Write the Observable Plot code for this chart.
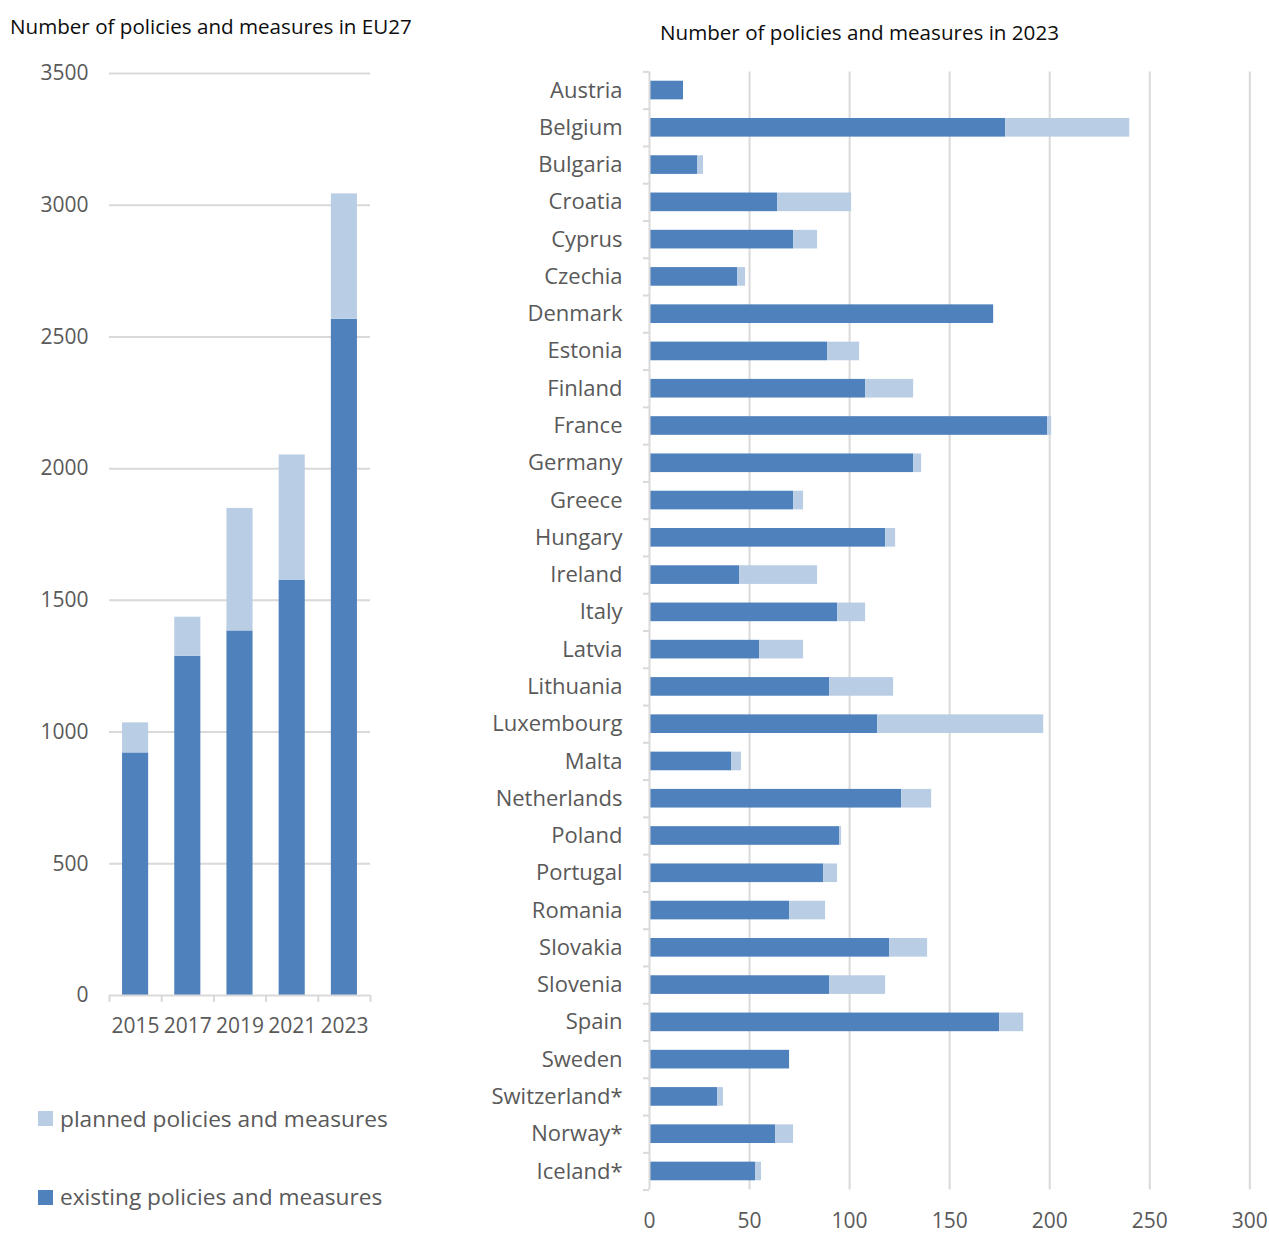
<!DOCTYPE html>
<html>
<head>
<meta charset="utf-8">
<script src="https://cdn.jsdelivr.net/npm/d3@7"></script>
<script src="https://cdn.jsdelivr.net/npm/@observablehq/plot@0.6"></script>
<style>
  html, body { margin: 0; padding: 0; background: #fff; overflow: hidden; }
  #page { position: relative; width: 1269px; height: 1233px; font-family: "Open Sans", sans-serif; }
  .title { position: absolute; font-size: 20.6px; line-height: 20px; color: #0d0d0d; white-space: nowrap; }
  .legend { position: absolute; font-size: 22.7px; line-height: 22px; color: #595959; white-space: nowrap; }
  .swatch { position: absolute; width: 15px; height: 15px; }
  .chart { position: absolute; }
</style>
</head>
<body>
<div id="page">
  <div class="title" style="left:10px; top:16px;">Number of policies and measures in EU27</div>
  <div class="title" style="left:660px; top:22px;">Number of policies and measures in 2023</div>
  <div id="left" class="chart" style="left:0px; top:50px;"></div>
  <div id="right" class="chart" style="left:469px; top:55px;"></div>
  <div class="swatch" style="left:38px; top:1111px; background:#B9CDE5;"></div>
  <div class="legend" style="left:60px; top:1108px;">planned policies and measures</div>
  <div class="swatch" style="left:38px; top:1190px; background:#4F81BD;"></div>
  <div class="legend" style="left:60px; top:1186px;">existing policies and measures</div>
</div>
<script>
// EU27 totals by reporting year
const years = ["2015", "2017", "2019", "2021", "2023"];
const euExisting = [921, 1288, 1384, 1577, 2567];
const euPlanned = [114, 148, 465, 475, 476];
const euTicks = [0, 500, 1000, 1500, 2000, 2500, 3000, 3500];

// Per-country counts reported in 2023
const countries = ["Austria", "Belgium", "Bulgaria", "Croatia", "Cyprus", "Czechia", "Denmark", "Estonia",
  "Finland", "France", "Germany", "Greece", "Hungary", "Ireland", "Italy", "Latvia", "Lithuania",
  "Luxembourg", "Malta", "Netherlands", "Poland", "Portugal", "Romania", "Slovakia", "Slovenia",
  "Spain", "Sweden", "Switzerland*", "Norway*", "Iceland*"];
const existing = [17, 178, 24, 64, 72, 44, 172, 89, 108, 199, 132, 72, 118, 45, 94, 55, 90,
  114, 41, 126, 95, 87, 70, 120, 90, 175, 70, 34, 63, 53];
const planned = [0, 62, 3, 37, 12, 4, 0, 16, 24, 2, 4, 5, 5, 39, 14, 22, 32,
  83, 5, 15, 1, 7, 18, 19, 28, 12, 0, 3, 9, 3];
const countryTicks = [0, 50, 100, 150, 200, 250, 300];

const types = ["existing", "planned"];
const colors = ["#4F81BD", "#B9CDE5"];
const gridColor = "#d9d9d9";
const textColor = "#595959";

// Tidy rows: existing first so it sits at the base of each stack
const euRows = years.flatMap((year, i) => [
  {year, type: "existing", value: euExisting[i]},
  {year, type: "planned", value: euPlanned[i]}
]);
const countryRows = countries.flatMap((country, i) => [
  {country, type: "existing", value: existing[i]},
  {country, type: "planned", value: planned[i]}
]);

// Left: stacked columns for EU27
{
  const W = 400, H = 1000, mL = 109, mR = 30, mT = 23, mB = 55;
  const step = (W - mL - mR) / years.length;
  const chart = Plot.plot({
    width: W, height: H,
    marginLeft: mL, marginRight: mR, marginTop: mT, marginBottom: mB,
    style: {fontFamily: "Open Sans", fontSize: "21px", color: textColor, background: "transparent", overflow: "visible"},
    x: {domain: years, paddingInner: 0.5, paddingOuter: 0.25, round: false},
    y: {domain: [0, 3500]},
    color: {domain: types, range: colors},
    marks: [
      Plot.gridY(euTicks.filter(d => d > 0), {stroke: gridColor, strokeOpacity: 1, strokeWidth: 2}),
      Plot.barY(euRows, {x: "year", y: "value", fill: "type"}),
      Plot.ruleY([0], {stroke: gridColor, strokeWidth: 2}),
      // category boundary ticks below the baseline
      Plot.ruleX(years, {x: d => d, y1: 0, y2: 0, dx: -step / 2, insetBottom: -7, stroke: gridColor, strokeWidth: 2}),
      Plot.ruleX(years.slice(-1), {x: d => d, y1: 0, y2: 0, dx: step / 2, insetBottom: -7, stroke: gridColor, strokeWidth: 2}),
      Plot.axisY({ticks: euTicks, tickFormat: d => String(d), tickSize: 0, tickPadding: 21, label: null}),
      Plot.axisX({tickSize: 0, tickPadding: 23, label: null})
    ]
  });
  document.getElementById("left").append(chart);
}

// Right: stacked horizontal bars per country
{
  const W = 800, H = 1175, mL = 180, mR = 19.7, mT = 16.4, mB = 40.4;
  const step = (H - mT - mB) / countries.length;
  const chart = Plot.plot({
    width: W, height: H,
    marginLeft: mL, marginRight: mR, marginTop: mT, marginBottom: mB,
    style: {fontFamily: "Open Sans", fontSize: "22px", color: textColor, background: "transparent", overflow: "visible"},
    x: {domain: [0, 300]},
    y: {domain: countries, paddingInner: 0.5, paddingOuter: 0.25, round: false},
    color: {domain: types, range: colors},
    marks: [
      Plot.gridX(countryTicks.filter(d => d > 0), {stroke: gridColor, strokeOpacity: 1, strokeWidth: 2}),
      Plot.barX(countryRows, {y: "country", x: "value", fill: "type"}),
      Plot.ruleX([0], {stroke: gridColor, strokeWidth: 2}),
      // category boundary ticks left of the axis line
      Plot.ruleY(countries, {y: d => d, x1: 0, x2: 0, dy: -step / 2, insetLeft: -6, stroke: gridColor, strokeWidth: 2}),
      Plot.ruleY(countries.slice(-1), {y: d => d, x1: 0, x2: 0, dy: step / 2, insetLeft: -6, stroke: gridColor, strokeWidth: 2}),
      Plot.axisY({tickSize: 0, tickPadding: 27, label: null}),
      Plot.axisX({ticks: countryTicks, tickSize: 0, tickPadding: 23, fontSize: 21, label: null})
    ]
  });
  document.getElementById("right").append(chart);
}
</script>
</body>
</html>
